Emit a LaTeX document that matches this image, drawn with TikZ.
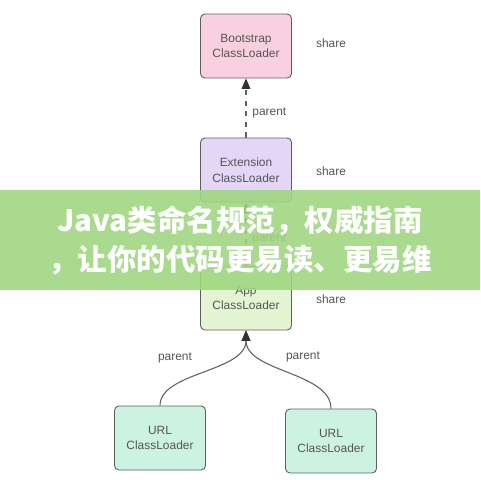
\documentclass[tikz,border=0pt]{standalone}
\usepackage{fontspec}
\setsansfont{Liberation Sans}
\newfontfamily\cjk{Noto Sans CJK SC}
\usepackage{tikz}
\usetikzlibrary{shapes,positioning,calc}
\usetikzlibrary{arrows.meta}
\definecolor{linegray}{RGB}{95,95,95}
\definecolor{tipgray}{RGB}{50,50,50}
\definecolor{textgray}{RGB}{85,85,85}
\definecolor{bootpink}{RGB}{249,208,224}
\definecolor{extlilac}{RGB}{227,214,247}
\definecolor{appgreen}{RGB}{228,245,212}
\definecolor{urlmint}{RGB}{204,242,226}
\definecolor{bannergreen}{RGB}{158,214,126}
\tikzstyle{loader} = [rectangle, rounded corners=2.5pt, minimum width=1.82cm, minimum height=1.28cm,
text centered, align=center, draw=linegray, line width=0.5pt, text=textgray,
font=\sffamily\fontsize{6.8}{9}\selectfont]
\tikzstyle{lbl} = [text=textgray, font=\sffamily\fontsize{6.8}{9}\selectfont]
\tikzstyle{arrow} = [line width=0.6pt, draw=linegray,
-{Triangle[length=6pt,width=5pt,color=tipgray]}]

\begin{document}
\begin{tikzpicture}[x=0.02cm, y=-0.02cm]
\useasboundingbox[fill=white] (0,0) rectangle (480,480);
% loaders
\node (boot) at (246,46) [loader, fill=bootpink] {Bootstrap\\ClassLoader};
\node (ext) at (246,170) [loader, fill=extlilac] {Extension\\ClassLoader};
\node (app) at (246,298) [loader, fill=appgreen] {App\\ClassLoader};
\node (urla) at (160,438) [loader, fill=urlmint] {URL\\ClassLoader};
\node (urlb) at (331,441) [loader, fill=urlmint] {URL\\ClassLoader};
% share labels
\node (sboot) at (331,43) [lbl] {share};
\node (sext) at (331,171) [lbl] {share};
\node (sapp) at (331,299) [lbl] {share};
% parent links
\draw[arrow, dashed] (ext) -- (boot) node[pos=0.42, right, lbl] {parent};
\draw[arrow, dashed] (app) -- (ext) node[pos=0.42, right, lbl] {parent};
\draw[arrow] (urla.north) .. controls (160,372) and (246,372) .. (app.south);
\draw[arrow] (urlb.north) .. controls (331,372) and (246,372) .. (app.south);
\node (pa) at (175,358) [lbl] {parent};
\node (pb) at (303,357) [lbl] {parent};
% banner
\fill[bannergreen, fill opacity=0.88] (0,190) rectangle (480,290);
\node (title) at (240,240) [text=white, align=center, font=\cjk\bfseries\fontsize{16.8}{22.3}\selectfont]
{Java类命名规范，权威指南\\，让你的代码更易读、更易维};
\end{tikzpicture}
\end{document}
